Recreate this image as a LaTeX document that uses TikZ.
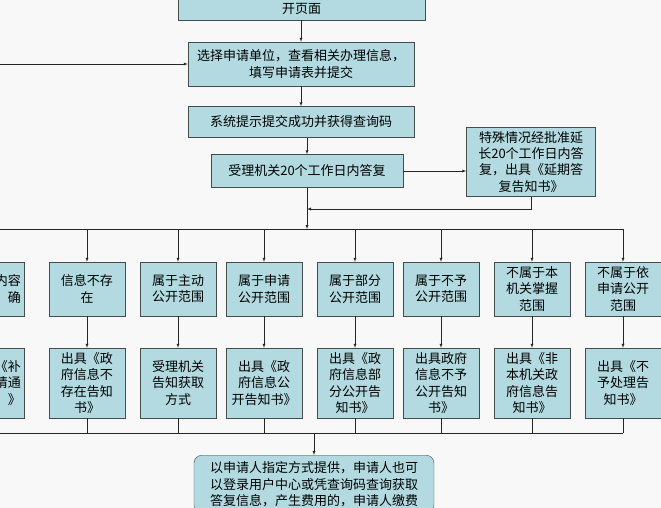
\documentclass[tikz,border=0pt]{standalone}
\usepackage{fontspec}
\setmainfont{Noto Sans CJK SC}
\usetikzlibrary{arrows,positioning}
\definecolor{boxfill}{RGB}{178,218,224}
\definecolor{boxline}{RGB}{70,75,78}
\definecolor{paper}{RGB}{248,248,248}

\begin{document}
\begin{tikzpicture}[
    x=1pt,y=-1pt,
    >=latex,
    every node/.style={font=\fontsize{13}{16.2}\selectfont},
    box/.style={rectangle,draw=boxline,fill=boxfill,align=center,inner sep=2pt},
    col/.style={box,minimum width=76pt,text width=70pt},
    arr/.style={->,draw=black!85},
    line/.style={draw=black!85}
  ]
    \fill[paper] (0,0) rectangle (661,508);
    \useasboundingbox (0,0) rectangle (661,508);
    \clip (0,0) rectangle (661,508);

    % main column
    \node (open) [box,anchor=south,minimum width=247pt,inner ysep=5pt,text width=240pt] at (301.5,20) {开页面};
    \node (select) [box,minimum width=226pt,minimum height=44pt] at (301,64) {选择申请单位，查看相关办理信息，\\填写申请表并提交};
    \node (code) [box,minimum width=226pt,minimum height=31pt] at (301,122) {系统提示提交成功并获得查询码};
    \node (reply) [box,minimum width=192pt,minimum height=33pt] at (307,171) {受理机关20个工作日内答复};
    \node (delay) [box,minimum width=129pt,minimum height=69pt] at (531,162) {特殊情况经批准延\\长20个工作日内答\\复，出具《延期答\\复告知书》};
    \node (final) [box,rounded corners=8pt,anchor=north,minimum width=240pt,minimum height=58pt] at (314,455) {以申请人指定方式提供，申请人也可\\以登录用户中心或凭查询码查询获取\\答复信息，产生费用的，申请人缴费};

    \coordinate (in) at (0,64);
    \coordinate (back) at (307,209);
    \coordinate (split) at (307,229);
    \coordinate (splitL) at (0,229);
    \coordinate (splitR) at (623,229);
    \coordinate (merge) at (314,433);
    \coordinate (mergeL) at (0,433);
    \coordinate (mergeR) at (623,433);

    \draw[arr] (open.south -| select) -- (select);
    \draw[arr] (in) -- (select);
    \draw[arr] (select) -- (code);
    \draw[arr] (code.south -| reply) -- (reply);
    \draw[arr] (reply.east) -- (reply.east -| delay.west);
    \draw[arr] (delay.south) |- (back);
    \draw[arr] (reply) -- (split);
    \draw[line] (splitL) -- (splitR);
    \draw[line] (mergeL) -- (mergeR);
    \draw[arr] (merge) -- (final);

    % branches
    \node (case0) [box,minimum width=76pt,minimum height=54pt,text width=70pt,align=right] at (-14,289) {内容\\确};
    \node (out0) [box,minimum width=76pt,minimum height=70pt,text width=70pt,align=right] at (-14,383) {《补\\请通\\》};
    \foreach \i/\x/\case/\out in {
        1/87/{信息不存\\在}/{出具《政\\府信息不\\存在告知\\书》},
        2/178/{属于主动\\公开范围}/{受理机关\\告知获取\\方式},
        3/264/{属于申请\\公开范围}/{出具《政\\府信息公\\开告知书》},
        4/355/{属于部分\\公开范围}/{出具《政\\府信息部\\分公开告\\知书》},
        5/441/{属于不予\\公开范围}/{出具政府\\信息不予\\公开告知\\书》},
        6/532/{不属于本\\机关掌握\\范围}/{出具《非\\本机关政\\府信息告\\知书》},
        7/623/{不属于依\\申请公开\\范围}/{出具《不\\予处理告\\知书》}} {
      \node (case\i) [col,minimum height=54pt] at (\x,289) {\case};
      \node (out\i) [col,minimum height=70pt] at (\x,383) {\out};
      \draw[arr] (\x,229) -- (case\i);
      \draw[arr] (case\i) -- (out\i);
      \draw[line] (out\i) -- (\x,433);
    }
    \draw[arr] (-4,229) -- (case0.north -| -4,0);
\end{tikzpicture}
\end{document}
